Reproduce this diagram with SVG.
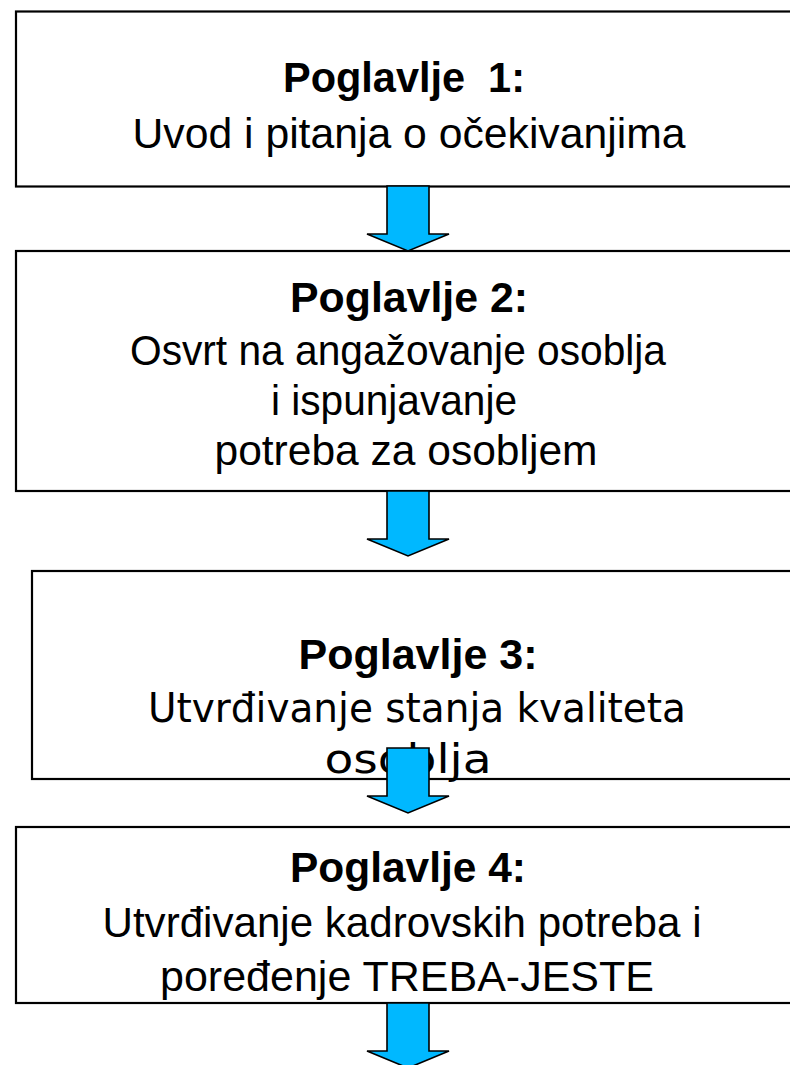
<svg xmlns="http://www.w3.org/2000/svg" width="790" height="1065" viewBox="0 0 790 1065">
<style>
.box{fill:#fff;stroke:#000;stroke-width:2.2}
.arr{fill:#00B8FF;stroke:#000;stroke-width:1.6;stroke-linejoin:miter}
.t{font-family:"Liberation Sans",Arial,sans-serif;font-size:43px;text-anchor:middle;fill:#000}
.b{font-weight:bold}
.d{font-family:"DejaVu Sans Condensed","DejaVu Sans",sans-serif;font-size:40px;text-anchor:middle;fill:#000}
</style>
<defs>
<path id="arrowShape" d="M-21,0 L21,0 L21,48 L41,48 L0,65 L-41,48 L-21,48 Z"/>
</defs>
<rect x="0" y="0" width="790" height="1065" fill="#fff"/>
<g id="node1">
<rect class="box" x="16" y="11.5" width="800" height="175"/>
<text class="t b" x="404" y="92" xml:space="preserve" textLength="242" lengthAdjust="spacingAndGlyphs">Poglavlje  1:</text>
<text class="t" x="409" y="148" textLength="553" lengthAdjust="spacingAndGlyphs">Uvod i pitanja o očekivanjima</text>
</g>
<g id="node2">
<rect class="box" x="16" y="251" width="800" height="240"/>
<text class="t b" x="409" y="312" textLength="238" lengthAdjust="spacingAndGlyphs">Poglavlje 2:</text>
<text class="t" x="398" y="365" textLength="536" lengthAdjust="spacingAndGlyphs">Osvrt na angažovanje osoblja</text>
<text class="t" x="394" y="415" textLength="246" lengthAdjust="spacingAndGlyphs">i ispunjavanje</text>
<text class="t" x="406" y="465" textLength="383" lengthAdjust="spacingAndGlyphs">potreba za osobljem</text>
</g>
<g id="node3">
<rect class="box" x="32" y="571" width="800" height="208"/>
<text class="t b" x="418" y="669" textLength="239" lengthAdjust="spacingAndGlyphs">Poglavlje 3:</text>
<text class="d" x="417" y="722" textLength="538" lengthAdjust="spacingAndGlyphs">Utvrđivanje stanja kvaliteta</text>
<text class="d" x="408" y="773" textLength="167" lengthAdjust="spacingAndGlyphs">osoblja</text>
</g>
<g id="node4">
<rect class="box" x="16" y="827" width="800" height="176"/>
<text class="t b" x="408" y="882" textLength="236" lengthAdjust="spacingAndGlyphs">Poglavlje 4:</text>
<text class="t" x="402" y="937" textLength="599" lengthAdjust="spacingAndGlyphs">Utvrđivanje kadrovskih potreba i</text>
<text class="t" x="407" y="991" textLength="494" lengthAdjust="spacingAndGlyphs">poređenje TREBA-JESTE</text>
</g>
<g id="connectors">
<use href="#arrowShape" class="arr" transform="translate(408,186)"/>
<use href="#arrowShape" class="arr" transform="translate(408,491)"/>
<use href="#arrowShape" class="arr" transform="translate(408,748)"/>
<use href="#arrowShape" class="arr" transform="translate(408,1003)"/>
</g>
</svg>
